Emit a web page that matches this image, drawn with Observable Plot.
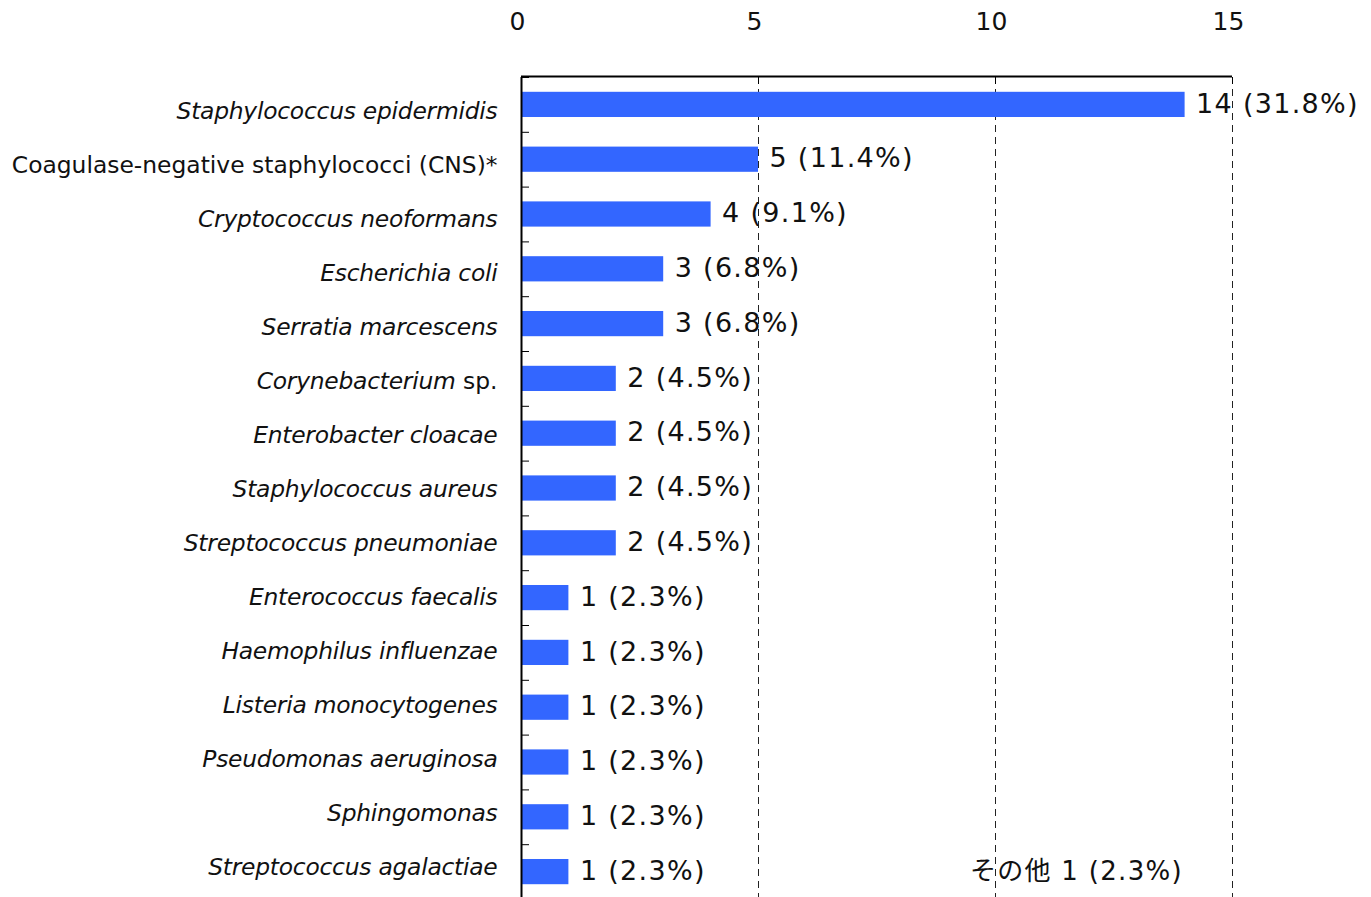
<!DOCTYPE html>
<html>
<head>
<meta charset="utf-8">
<script src="https://cdn.jsdelivr.net/npm/d3@7"></script>
<script src="https://cdn.jsdelivr.net/npm/@observablehq/plot@0.6"></script>
<style>
  html, body { margin: 0; padding: 0; background: #fff; }
  #chart { width: 1371px; height: 897px; overflow: hidden; }
</style>
</head>
<body>
<div id="chart"></div>
<script>
// ---- data ----
const categories = [
  "Staphylococcus epidermidis",
  "Coagulase-negative staphylococci (CNS)*",
  "Cryptococcus neoformans",
  "Escherichia coli",
  "Serratia marcescens",
  "Corynebacterium sp.",
  "Enterobacter cloacae",
  "Staphylococcus aureus",
  "Streptococcus pneumoniae",
  "Enterococcus faecalis",
  "Haemophilus influenzae",
  "Listeria monocytogenes",
  "Pseudomonas aeruginosa",
  "Sphingomonas",
  "Streptococcus agalactiae"
];
// italic part / upright part of each label
const italicPart = [
  "Staphylococcus epidermidis", "", "Cryptococcus neoformans", "Escherichia coli",
  "Serratia marcescens", "Corynebacterium", "Enterobacter cloacae", "Staphylococcus aureus",
  "Streptococcus pneumoniae", "Enterococcus faecalis", "Haemophilus influenzae",
  "Listeria monocytogenes", "Pseudomonas aeruginosa", "Sphingomonas", "Streptococcus agalactiae"
];
const uprightPart = [
  "", "Coagulase-negative staphylococci (CNS)*", "", "", "", " sp.", "", "", "", "", "", "", "", "", ""
];
const counts   = [14, 5, 4, 3, 3, 2, 2, 2, 2, 1, 1, 1, 1, 1, 1];
const percents = ["31.8", "11.4", "9.1", "6.8", "6.8", "4.5", "4.5", "4.5", "4.5", "2.3", "2.3", "2.3", "2.3", "2.3", "2.3"];
const xTicks = [0, 5, 10, 15];
const gridValues = [5, 10, 15];
const otherNote = {text: "その他 1 (2.3%)", x: 9.46, y: "Streptococcus agalactiae"};

const data = categories.map((name, i) => ({name, count: counts[i], pct: percents[i]}));

// ---- layout ----
const W = 1371, H = 897;
const ML = 521, MR = 139, MT = 77, MB = -2;
const step = (H - MT - MB) / categories.length;
const labelPitch = 54.07;           // category labels sit on a slightly tighter pitch than the bars
const FONT = "'DejaVu Sans', 'Noto Sans CJK JP', sans-serif";

const chart = Plot.plot({
  width: W,
  height: H,
  marginLeft: ML,
  marginRight: MR,
  marginTop: MT,
  marginBottom: MB,
  style: {fontFamily: FONT, fontSize: "23px", color: "#111", background: "#fff"},
  x: {domain: [0, 15], ticks: xTicks},
  y: {domain: categories, paddingInner: 0.54, paddingOuter: 0.27, round: false},
  marks: [
    Plot.ruleX(gridValues, {stroke: "#222", strokeWidth: 1, strokeDasharray: "7,5"}),
    Plot.barX(data, {x: "count", y: "name", fill: "#3366ff"}),
    Plot.text(data, {
      x: "count", y: "name",
      text: d => `${d.count} (${d.pct}%)`,
      textAnchor: "start", dx: 11, dy: -1, fill: "#111", fontSize: 27
    }),
    Plot.text([otherNote], {
      x: "x", y: "y", text: "text",
      textAnchor: "start", dy: 0, fill: "#111", fontSize: 26
    }),
    Plot.ruleX([0], {stroke: "#000", strokeWidth: 2}),
    Plot.ruleY([categories[0]], {x1: 0, x2: 15, dy: -step / 2 - 1, stroke: "#000", strokeWidth: 2}),
    Plot.axisX({anchor: "top", ticks: xTicks, tickSize: 0, tickPadding: 48, dx: -4, fontSize: 25, fill: "#111"}),
    Plot.axisX({anchor: "top", ticks: gridValues, tickSize: 7, dy: 6, text: null, stroke: "#000"}),
    Plot.axisY({tickSize: 8, dx: 8, dy: -step / 2, text: null, stroke: "#000"}),
    Plot.axisY({tickSize: 0, tickPadding: 24, dy: 0, fontSize: 23.4, fill: "#111"})
  ]
});

document.getElementById("chart").appendChild(chart);

// wider spacing on value labels (reference face is wider than DejaVu)
chart.querySelectorAll("text").forEach(t => {
  if (/\(\d+\.\d%\)$/.test(t.textContent.trim())) t.style.letterSpacing = "1.3px";
});

// mixed italic / upright category labels
const ns = "http://www.w3.org/2000/svg";
const mid = (categories.length - 1) / 2;
chart.querySelectorAll("text").forEach(t => {
  const i = categories.indexOf(t.textContent.trim());
  if (i < 0) return;
  while (t.firstChild) t.removeChild(t.firstChild);
  if (italicPart[i]) {
    const a = document.createElementNS(ns, "tspan");
    a.style.fontStyle = "italic";
    a.style.letterSpacing = "-0.25px";
    a.textContent = italicPart[i];
    t.appendChild(a);
  }
  if (uprightPart[i]) {
    const b = document.createElementNS(ns, "tspan");
    b.style.fontStyle = "normal";
    b.textContent = uprightPart[i];
    t.appendChild(b);
  }
  const shift = (labelPitch - step) * (i - mid) + 1;
  const prev = t.getAttribute("transform") || "";
  t.setAttribute("transform", `${prev} translate(0,${shift.toFixed(2)})`.trim());
});
</script>
</body>
</html>
